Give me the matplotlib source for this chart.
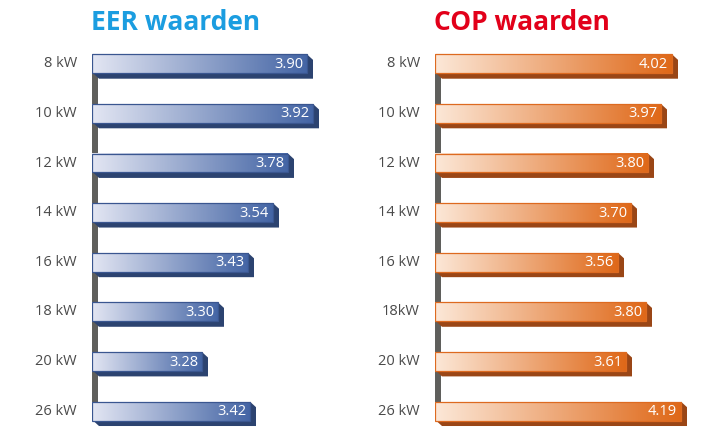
import matplotlib
matplotlib.use("Agg")
import matplotlib.pyplot as plt
import numpy as np
from matplotlib.patches import Polygon, Rectangle

plt.rcParams["font.family"] = ["Open Sans", "DejaVu Sans"]

# data
eer_labels = ["8 kW", "10 kW", "12 kW", "14 kW", "16 kW", "18 kW", "20 kW", "26 kW"]
eer_values = [3.90, 3.92, 3.78, 3.54, 3.43, 3.30, 3.28, 3.42]
# drawn bar lengths (px) - the source bars are not to scale
eer_len = [215, 221, 196, 181, 156, 126, 110, 158]

cop_labels = ["8 kW", "10 kW", "12 kW", "14 kW", "16 kW", "18kW", "20 kW", "26 kW"]
cop_values = [4.02, 3.97, 3.80, 3.70, 3.56, 3.80, 3.61, 4.19]
cop_len = [237, 226, 213, 196, 183, 211, 191, 246]

W, H = 706, 428
fig = plt.figure(figsize=(W / 100, H / 100), dpi=100)

BAR_H = 0.38   # row units
SH_DX = 6      # px
SH_DY = 0.11   # row units


def panel(x0_px, labels, values, lengths, title, title_x, title_color,
          c_left, c_right, edge, shadow):
    ax = fig.add_axes([x0_px / W, 0, 270 / W, (H - 39) / H])
    ax.axis("off")
    n = len(values)
    # gray post behind the bars
    ax.add_patch(Rectangle((0, 0), 6, n - 1 + 0.2, facecolor="#5f5f5c",
                           edgecolor="none", zorder=1))
    grad = np.linspace(0, 1, 256).reshape(1, -1)
    cmap = matplotlib.colors.LinearSegmentedColormap.from_list(
        "g", [c_left, c_right])
    for i, (lab, v, L) in enumerate(zip(labels, values, lengths)):
        top = i - BAR_H / 2
        bot = i + BAR_H / 2
        # shadow
        ax.add_patch(Polygon([(1, bot), (L, bot), (L, top),
                              (L + SH_DX, top + SH_DY),
                              (L + SH_DX, bot + SH_DY), (1 + SH_DX, bot + SH_DY)],
                             closed=True, facecolor=shadow, edgecolor="none",
                             zorder=2))
        ax.imshow(grad, extent=(0, L, bot, top), aspect="auto", cmap=cmap,
                  zorder=3, interpolation="bilinear")
        ax.barh(i, L, height=BAR_H, left=0, facecolor="none",
                edgecolor=edge, linewidth=0.9, zorder=4)
        ax.text(L - 4, i + 0.01, f"{v:.2f}", ha="right", va="center",
                color="white", fontsize=10.5, zorder=5)
        ax.text(-15, i, lab, ha="right", va="center", color="#4a4a4a",
                fontsize=10.5, clip_on=False)
    ax.set_xlim(0, 270)
    ax.set_ylim(7.34, -0.5)
    fig.text(title_x / W, 1 - 23 / H, title, ha="center", va="center",
             color=title_color, fontsize=19, fontweight="bold")


panel(92, eer_labels, eer_values, eer_len, "EER waarden", 176, "#1b9de0",
      "#e3e6f3", "#4465a5", "#3a5690", "#2c4370")
panel(435, cop_labels, cop_values, cop_len, "COP waarden", 522, "#e2001a",
      "#fce8d8", "#df6818", "#dd6a20", "#9a4616")

fig.savefig("out.png", dpi=100)
